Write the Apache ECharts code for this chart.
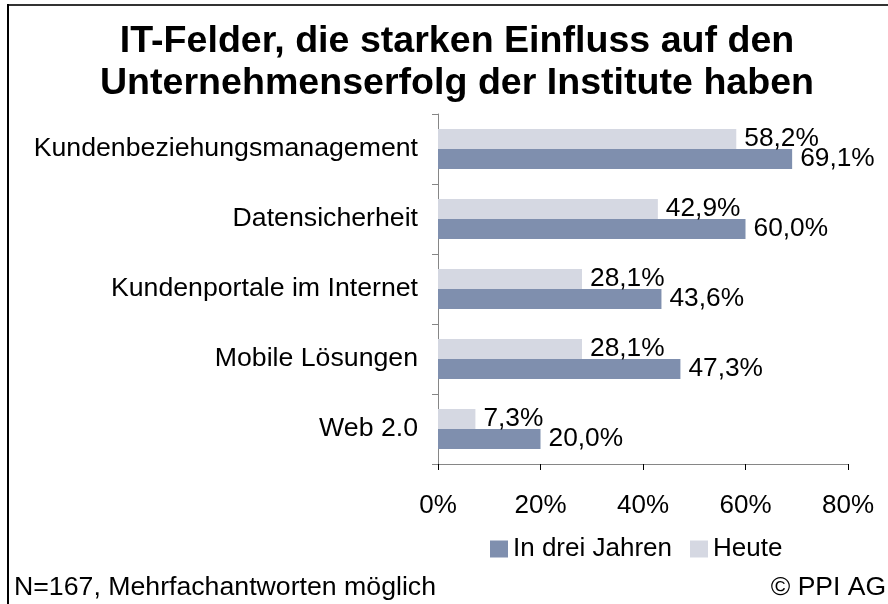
<!DOCTYPE html>
<html>
<head>
<meta charset="utf-8">
<script src="https://cdn.jsdelivr.net/npm/echarts@6/dist/echarts.min.js"></script>
<style>
  html, body { margin: 0; padding: 0; background: #fff; }
  #chart { width: 888px; height: 604px; }
</style>
</head>
<body>
<div id="chart"></div>
<script>
// Kategorien (von oben nach unten)
const categories = [
  'Kundenbeziehungsmanagement',
  'Datensicherheit',
  'Kundenportale im Internet',
  'Mobile Lösungen',
  'Web 2.0'
]
// Werte in Prozent
const heute = [58.2, 42.9, 28.1, 28.1, 7.3]
const inDreiJahren = [69.1, 60.0, 43.6, 47.3, 20.0]
const xTicks = [0, 20, 40, 60, 80]

const FONT = 'Liberation Sans, Arial, sans-serif'
const fmt = (v) => v.toFixed(1).replace('.', ',') + '%'

const myChart = echarts.init(document.getElementById('chart'))

const option = {
  animation: false,
  textStyle: { fontFamily: FONT, color: '#000' },
  title: [
    {
      text: 'IT-Felder, die starken Einfluss auf den\nUnternehmenserfolg der Institute haben',
      left: 452,
      top: 16,
      textAlign: 'center',
      textStyle: { fontFamily: FONT, fontSize: 37.6, fontWeight: 'bold', lineHeight: 42, color: '#000' }
    },
    {
      text: 'N=167, Mehrfachantworten möglich',
      left: 14,
      top: 574,
      padding: 0,
      textStyle: { fontFamily: FONT, fontSize: 26.7, fontWeight: 'normal', color: '#000' }
    },
    {
      text: '© PPI AG',
      right: 2,
      top: 574,
      padding: 0,
      textStyle: { fontFamily: FONT, fontSize: 26.5, fontWeight: 'normal', color: '#000' }
    }
  ],
  legend: {
    data: ['In drei Jahren', 'Heute'],
    left: 490,
    top: 536,
    padding: 0,
    itemWidth: 18,
    itemHeight: 17,
    itemGap: 18,
    icon: 'rect',
    textStyle: { fontFamily: FONT, fontSize: 26, color: '#000' }
  },
  grid: {
    left: 438,
    right: 40,
    top: 114,
    bottom: 140
  },
  xAxis: {
    type: 'value',
    min: xTicks[0],
    max: xTicks[xTicks.length - 1],
    interval: 20,
    splitLine: { show: false },
    axisLine: { show: true, lineStyle: { color: '#868686', width: 1 } },
    axisTick: { show: true, length: 6, lineStyle: { color: '#000' } },
    axisLabel: {
      formatter: '{value}%',
      fontFamily: FONT,
      fontSize: 26,
      color: '#000',
      margin: 29
    }
  },
  yAxis: {
    type: 'category',
    data: categories,
    inverse: true,
    axisLine: { show: true, lineStyle: { color: '#868686', width: 1 } },
    axisTick: { show: true, length: 6, lineStyle: { color: '#868686' } },
    axisLabel: {
      fontFamily: FONT,
      fontSize: 26.7,
      color: '#000',
      margin: 20
    }
  },
  series: [
    {
      name: 'Heute',
      type: 'bar',
      data: heute,
      barWidth: 20,
      barGap: '0%',
      itemStyle: { color: '#d5d8e2' },
      label: {
        show: true,
        position: 'right',
        distance: 8,
        fontFamily: FONT,
        fontSize: 26.3,
        color: '#000',
        formatter: (p) => fmt(p.value)
      }
    },
    {
      name: 'In drei Jahren',
      type: 'bar',
      data: inDreiJahren,
      barWidth: 20,
      barGap: '0%',
      itemStyle: { color: '#7f8fae' },
      label: {
        show: true,
        position: 'right',
        distance: 8,
        fontFamily: FONT,
        fontSize: 26.3,
        color: '#000',
        formatter: (p) => fmt(p.value)
      }
    }
  ],
  graphic: [
    // Rahmen oben und links
    { type: 'rect', shape: { x: 7, y: 4, width: 881, height: 2 }, style: { fill: '#333' }, silent: true },
    { type: 'rect', shape: { x: 7, y: 4, width: 2, height: 600 }, style: { fill: '#000' }, silent: true }
  ]
}

myChart.setOption(option)
</script>
</body>
</html>
